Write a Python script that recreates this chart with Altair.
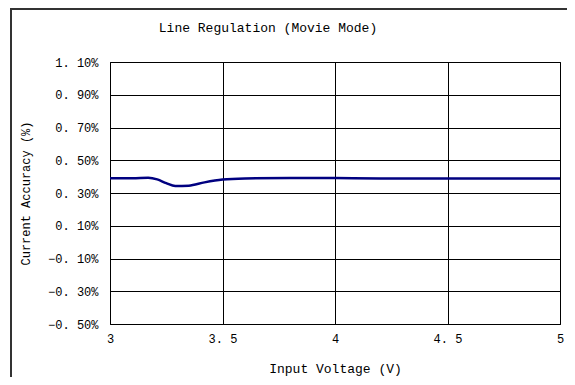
import altair as alt
import pandas as pd

voltage = [3.0, 3.1, 3.17, 3.21, 3.25, 3.29, 3.35, 3.42, 3.5, 3.6, 3.8, 4.0, 4.2, 4.5, 5.0]
accuracy_pct = [0.390, 0.390, 0.393, 0.383, 0.360, 0.342, 0.345, 0.365, 0.382, 0.389, 0.392, 0.391, 0.389, 0.389, 0.389]
y_ticks_pct = [-0.5, -0.3, -0.1, 0.1, 0.3, 0.5, 0.7, 0.9, 1.1]
x_ticks = [3, 3.5, 4, 4.5, 5]
title_text = "Line Regulation (Movie Mode)"

df = pd.DataFrame({"v": voltage, "a": [p / 100 for p in accuracy_pct]})
title_df = pd.DataFrame({"t": [title_text]})

FONT = "Liberation Mono"

line = alt.Chart(df).mark_line(color="#000080", strokeWidth=2.5, interpolate="monotone").encode(
    x=alt.X("v:Q", scale=alt.Scale(domain=[3, 5], nice=False, zero=False),
            axis=alt.Axis(values=x_ticks, title="Input Voltage (V)", grid=True, ticks=False,
                          labelExpr="replace(format(datum.value, '~g'), '.', '. ')",
                          labelFlush=False,
                          labelPadding=9, titlePadding=18, domain=False)),
    y=alt.Y("a:Q", scale=alt.Scale(domain=[-0.005, 0.011], nice=False, zero=False),
            axis=alt.Axis(values=[t / 100 for t in y_ticks_pct], title="Current Accuracy (%)",
                          grid=True, ticks=False, labelFlush=False,
                          labelExpr="replace(format(datum.value, '.2%'), '.', '. ')",
                          labelPadding=12, titlePadding=15, domain=False)),
)

title_mark = alt.Chart(title_df).mark_text(
    font=FONT, fontSize=13, color="#000000", align="center", baseline="middle"
).encode(x=alt.value(158), y=alt.value(-34), text="t:N")

left_border = alt.Chart(df).mark_rule(color="#333333", strokeWidth=2).encode(
    x=alt.value(-99), y=alt.value(-53), y2=alt.value(320)
)
top_border = alt.Chart(df).mark_rule(color="#333333", strokeWidth=2).encode(
    x=alt.value(-100), x2=alt.value(467), y=alt.value(-53)
)

chart = alt.layer(line, title_mark, left_border, top_border).properties(
    width=450,
    height=262,
    autosize=alt.AutoSizeParams(type="none"),
    padding={"left": 102, "top": 54, "right": 7, "bottom": 53},
).configure_view(stroke="black", strokeWidth=1).configure_axis(
    gridColor="black", gridWidth=1, gridOpacity=1,
    labelFont=FONT, labelFontSize=12, labelColor="#000000",
    titleFont=FONT, titleFontSize=13, titleFontWeight="normal", titleColor="#000000",
).configure_axisY(titleFontSize=12)

chart.save("out.html", embed_options={"renderer": "svg", "actions": False})
